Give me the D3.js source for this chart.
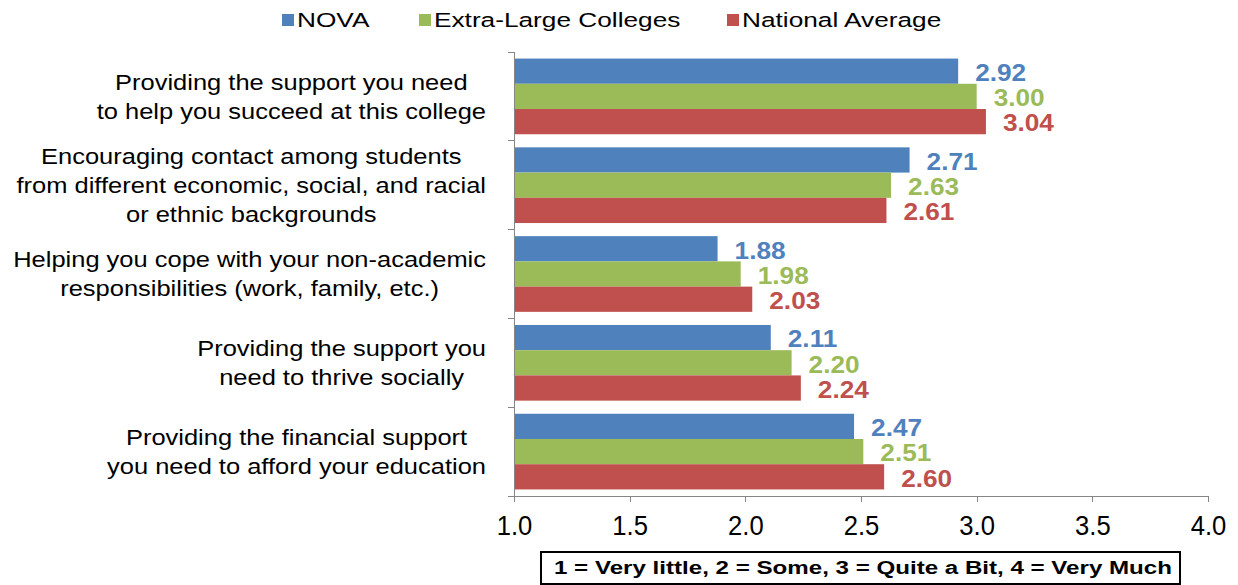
<!DOCTYPE html>
<html>
<meta charset="utf-8">
<style>
body { margin: 0; background: #fff; font-family: "Liberation Sans", Arial, sans-serif; }
.axis path, .axis line { stroke: #868686; shape-rendering: crispEdges; }
</style>
<body>
<script src="https://d3js.org/d3.v7.min.js"></script>
<script>
// data
var categories = [
  ["Providing the support you need", "to help you succeed at this college"],
  ["Encouraging contact among students", "from different economic, social, and racial", "or ethnic backgrounds"],
  ["Helping you cope with your non-academic", "responsibilities (work, family, etc.)"],
  ["Providing the support you", "need to thrive socially"],
  ["Providing the financial support", "you need to afford your education"]
];
var seriesNames = ["NOVA", "Extra-Large Colleges", "National Average"];
var nova     = [2.92, 2.71, 1.88, 2.11, 2.47];
var xlarge   = [3.00, 2.63, 1.98, 2.20, 2.51];
var national = [3.04, 2.61, 2.03, 2.24, 2.60];
var xTicks = [1.0, 1.5, 2.0, 2.5, 3.0, 3.5, 4.0];
var colors = ["#4F81BD", "#9BBB59", "#C0504D"];
var note = "1 = Very little, 2 = Some, 3 = Quite a Bit, 4 = Very Much";

var series = [nova, xlarge, national];

var W = 1238, H = 585;
var mLeft = 514, mRight = 1208, mTop = 52, mBottom = 496;

var svg = d3.select("body").append("svg").attr("width", W).attr("height", H);

var x = d3.scaleLinear().domain([1, 4]).range([mLeft, mRight]);
var y = d3.scaleBand().domain(d3.range(categories.length)).range([mTop, mBottom]);
var inner = d3.scaleBand().domain(d3.range(3)).range([0, y.bandwidth()]).paddingOuter(0.26);

// the picture's text is stretched a little differently per part, so scale it sideways
function wideText(parent, px, py, anchor, size, sx) {
  return parent.append("g")
      .attr("transform", "translate(" + px + "," + py + ") scale(" + sx + ",1)")
    .append("text")
      .attr("text-anchor", anchor)
      .attr("font-size", size)
      .attr("fill", "#000");
}

// bars
var groups = svg.selectAll(".cat").data(categories).enter().append("g")
  .attr("transform", function(d, i) { return "translate(0," + y(i) + ")"; });

groups.each(function(c, i) {
  var g = d3.select(this);
  series.forEach(function(s, k) {
    g.append("rect")
      .attr("x", x(1))
      .attr("y", inner(k))
      .attr("width", x(s[i]) - x(1))
      .attr("height", inner.bandwidth())
      .attr("fill", colors[k]);
  });
  series.forEach(function(s, k) {
    wideText(g, x(s[i]) + 17, inner(k) + inner.bandwidth() / 2 + 1, "start", 24.5, 1.07)
      .attr("dy", "0.36em")
      .attr("font-weight", "bold")
      .attr("fill", colors[k])
      .text(s[i].toFixed(2));
  });
});

// x axis
var xAxis = svg.append("g").attr("class", "axis")
  .attr("transform", "translate(0," + mBottom + ")")
  .call(d3.axisBottom(x).tickValues(xTicks).tickFormat(d3.format(".1f")).tickSize(6).tickSizeOuter(0));
xAxis.selectAll("text").attr("font-size", 27).attr("fill", "#000")
  .attr("y", 29).attr("dy", "0.36em")
  .attr("transform", "scale(0.95,1)")
  .attr("font-family", "Liberation Sans, Arial, sans-serif");

// y axis with ticks on the category boundaries
svg.append("line").attr("x1", mLeft).attr("x2", mLeft).attr("y1", mTop).attr("y2", mBottom)
  .attr("stroke", "#868686").attr("shape-rendering", "crispEdges");
svg.selectAll(".ytick").data(d3.range(categories.length + 1)).enter().append("line")
  .attr("x1", mLeft - 6).attr("x2", mLeft)
  .attr("y1", function(i) { return i < categories.length ? y(i) : mBottom; })
  .attr("y2", function(i) { return i < categories.length ? y(i) : mBottom; })
  .attr("stroke", "#868686").attr("shape-rendering", "crispEdges");

// category labels
var lineH = 29, catSx = 1.185;
categories.forEach(function(lines, i) {
  var cy = y(i) + y.bandwidth() / 2;
  var t = wideText(svg, 0, cy, "middle", 21.5, catSx);
  var spans = lines.map(function(l, j) {
    return t.append("tspan").attr("x", 0).attr("y", (j - (lines.length - 1) / 2) * lineH).attr("dy", "0.36em").text(l);
  });
  var maxW = d3.max(spans, function(s) { return s.node().getComputedTextLength(); });
  var cx = 486 - maxW * catSx / 2;
  d3.select(t.node().parentNode).attr("transform", "translate(" + cx + "," + cy + ") scale(" + catSx + ",1)");
});

// legend
var legendX = [282, 419, 727];
seriesNames.forEach(function(n, k) {
  svg.append("rect").attr("x", legendX[k]).attr("y", 14).attr("width", 12).attr("height", 12).attr("fill", colors[k]);
  wideText(svg, legendX[k] + 15, 20, "start", 20.5, 1.28).attr("dy", "0.36em").text(n);
});

// note box
svg.append("rect").attr("x", 541).attr("y", 552).attr("width", 639).attr("height", 32)
  .attr("fill", "#fff").attr("stroke", "#000").attr("stroke-width", 2);
svg.append("text").attr("x", 863).attr("y", 568).attr("dy", "0.36em")
  .attr("text-anchor", "middle").attr("font-size", 18).attr("font-weight", "bold")
  .attr("textLength", 618).attr("lengthAdjust", "spacingAndGlyphs")
  .text(note);
</script>
</body>
</html>
